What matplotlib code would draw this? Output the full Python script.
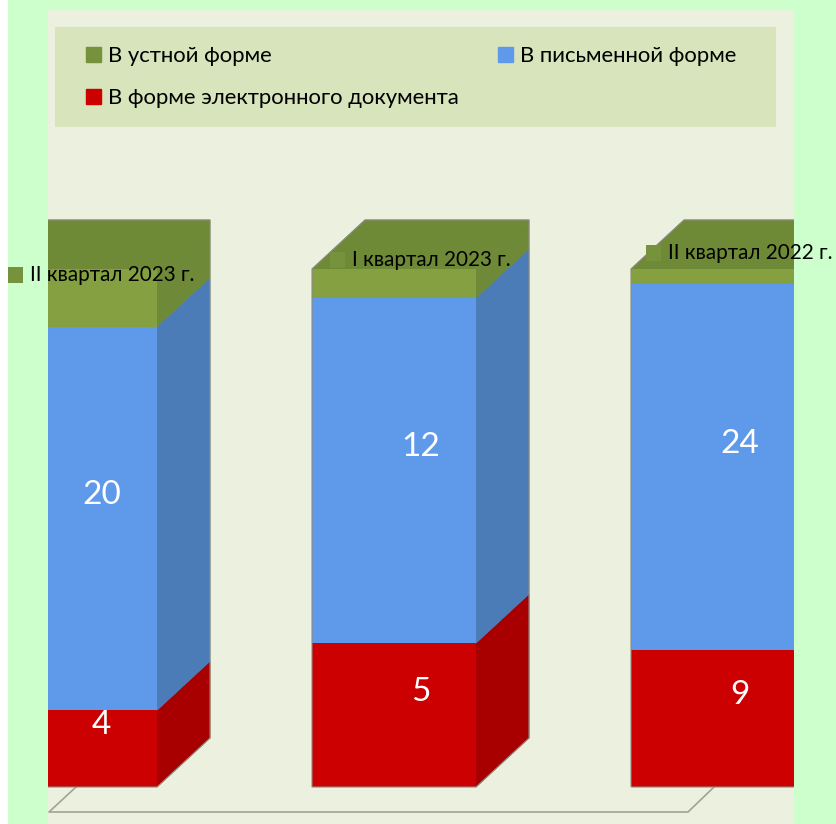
import matplotlib
matplotlib.use('Agg')
from matplotlib import pyplot as plt
from matplotlib.patches import Polygon, Patch, Rectangle

plt.rcParams['font.family'] = ['Lato', 'DejaVu Sans']

# data
kvartaly = ['II квартал 2023 г.', 'I квартал 2023 г.', 'II квартал 2022 г.']
elektronno = [4, 5, 9]
pismenno = [20, 12, 24]
ustno = [3, 1, 1]

nazvy = ['В форме электронного документа', 'В письменной форме', 'В устной форме']
barvy = ['#cc0000', '#5f99ea', '#84a040']
boky = ['#a80000', '#4b7cb8', '#6e8937']
vrch = '#6f8a37'
znacka = '#76923c'
okraj = '#8c8c80'

W, H = 836, 824
fig = plt.figure(figsize=(W / 100, H / 100), dpi=100, facecolor='white')
fig.add_artist(Rectangle((8 / W, 0), 1 - 8 / W, 1, transform=fig.transFigure, color='#ccffcc', lw=0, zorder=-1))

# panel 48..794 px, 10..824 px
ax = fig.add_axes([48 / W, 0, (794 - 48) / W, (H - 10) / H], facecolor='#ebf1de')
krok = 319.0
vyska = 518.0
ax.set_xlim((48 - 75) / krok, (794 - 75) / krok)
ax.set_ylim(-37 / vyska, (787 - 10) / vyska)
ax.axis('off')
ax.add_patch(Rectangle((0, 0), 1, 1, transform=ax.transAxes, color='#ebf1de', lw=0, zorder=0))

sirka = 164 / krok
dx = 53 / krok
dy = 49 / vyska

# podlaha
ax.plot([(76 - 75) / krok, (49 - 75) / krok, (688 - 75) / krok, (714 - 75) / krok],
        [0, -25 / vyska, -25 / vyska, 0], color='#a0a498', lw=1.2, zorder=1)

serie = [elektronno, pismenno, ustno]
for i in range(len(kvartaly)):
    soucet = elektronno[i] + pismenno[i] + ustno[i]
    dole = 0.0
    for s, hodnoty in enumerate(serie):
        h = hodnoty[i] / soucet
        ax.bar(i, h, sirka, bottom=dole, color=barvy[s], edgecolor='none', zorder=3)
        x1 = i + sirka / 2
        ax.add_patch(Polygon([(x1, dole), (x1 + dx, dole + dy), (x1 + dx, dole + h + dy), (x1, dole + h)],
                             closed=True, facecolor=boky[s], edgecolor=boky[s], lw=0.5, zorder=2))
        if s < 2:
            ax.text(i + dx / 2, dole + h / 2 + dy / 2 - 1 / vyska, str(hodnoty[i]), color='white',
                    fontsize=24, ha='center', va='center', zorder=5)
        dole += h
    x0 = i - sirka / 2
    x1 = i + sirka / 2
    ax.add_patch(Polygon([(x0, 1), (x1, 1), (x1 + dx, 1 + dy), (x0 + dx, 1 + dy)],
                         closed=True, facecolor=vrch, edgecolor=vrch, lw=0.5, zorder=2))
    # tenky obrys sloupce
    ax.add_patch(Polygon([(x0, 0), (x1, 0), (x1 + dx, dy), (x1 + dx, 1 + dy), (x0 + dx, 1 + dy), (x0, 1)],
                         closed=True, fill=False, edgecolor=okraj, lw=0.8, zorder=4))

# popisky kvartalu, presahuji pres panel
pozice = [(8, 275), (330, 260), (646, 253)]
for (px, py), nazev in zip(pozice, kvartaly):
    fig.add_artist(Rectangle((px / W, 1 - (py + 7.5) / H), 14.5 / W, 15 / H, transform=fig.transFigure,
                             color=znacka, lw=0, zorder=6))
    fig.text((px + 22) / W, 1 - py / H, nazev, fontsize=14.9, color='black', va='center', zorder=7)

# legenda
fig.add_artist(Rectangle((55 / W, 1 - 127 / H), (776 - 55) / W, 100 / H, transform=fig.transFigure,
                         color='#d8e4bc', lw=0, zorder=4))
handles = [Patch(color=znacka), Patch(color=barvy[0]), Patch(color=barvy[1])]
labels = [nazvy[2], nazvy[0], nazvy[1]]
leg = fig.legend(handles, labels, ncols=2, loc='upper left',
                 bbox_to_anchor=(86 / W, 1 - 46 / H), frameon=False,
                 fontsize=15.9, handlelength=0.7, handleheight=0.7, handletextpad=0.3,
                 labelspacing=1.0, borderpad=0, borderaxespad=0, columnspacing=1.75)
leg.set_zorder(5)

fig.savefig('out.png', dpi=100)
